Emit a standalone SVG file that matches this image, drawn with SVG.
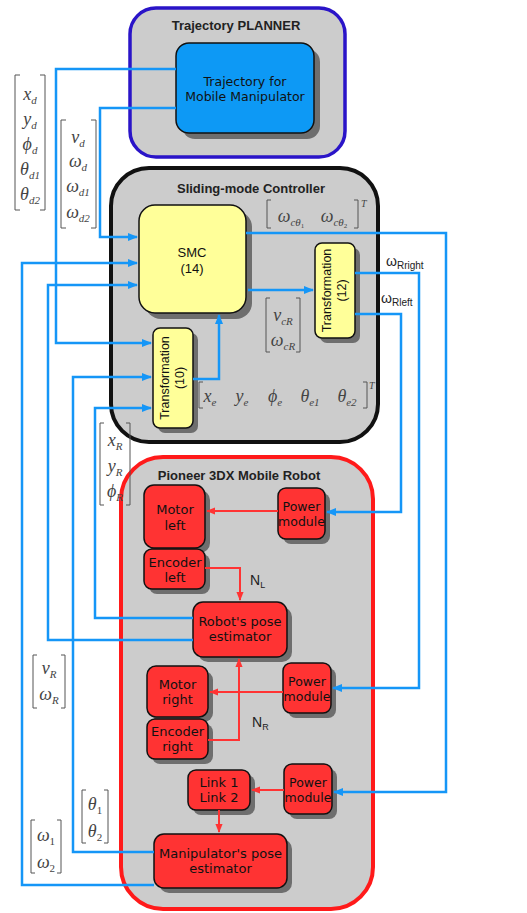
<svg xmlns="http://www.w3.org/2000/svg" width="527" height="913" viewBox="0 0 527 913">
<defs>
<marker id="ab" viewBox="0 0 10 8" refX="9" refY="4" markerWidth="10" markerHeight="8" markerUnits="userSpaceOnUse" orient="auto"><path d="M0,0 L10,4 L0,8 Z" fill="#1596f7"/></marker>
<marker id="ar" viewBox="0 0 10 8" refX="9" refY="4" markerWidth="9" markerHeight="8" markerUnits="userSpaceOnUse" orient="auto"><path d="M0,0 L10,4 L0,8 Z" fill="#ff3333"/></marker>
</defs>
<style>
.title{font-family:"Liberation Sans",Arial,sans-serif;font-weight:bold;font-size:13px;fill:#222;text-anchor:middle}
.dv{font-family:"DejaVu Sans",sans-serif;font-size:13px;fill:#111;text-anchor:middle}
.pm{font-size:12.5px}
.ls{font-family:"Liberation Sans",Arial,sans-serif;font-size:13px;fill:#111;text-anchor:middle}
.rt{font-size:12.5px}
.m{font-family:"Liberation Serif","Times New Roman",serif;font-style:italic;font-size:18px;fill:#444;text-anchor:middle}
.s{font-size:11px}
.n{font-style:normal}
.sup{font-family:"Liberation Serif","Times New Roman",serif;font-style:italic;font-size:10px;fill:#444}
.br{fill:none;stroke:#555;stroke-width:1}
.sh{fill:#6e6e6e}
.yel{fill:#ffff99;stroke:#111;stroke-width:1.5}
.red{fill:#ff3333;stroke:#111;stroke-width:1.5}
.bl{fill:none;stroke:#1596f7;stroke-width:2.5}
.rl{fill:none;stroke:#ff3333;stroke-width:2}
.lab{font-family:"Liberation Sans",Arial,sans-serif;font-size:14px;fill:#222}
</style>
<rect width="527" height="913" fill="#ffffff"/>

<g id="planner">
<rect x="130" y="8" width="215" height="149" rx="26" fill="#cccccc" stroke="#2a14c8" stroke-width="3.5"/>
<text class="title" x="236" y="30">Trajectory PLANNER</text>
</g>
<g id="traj">
<rect class="sh" x="182" y="49" width="138" height="90" rx="13"/>
<rect x="176" y="43" width="138" height="90" rx="13" fill="#0d99f5" stroke="#111" stroke-width="1.5"/>
<text class="dv pm" x="245" y="86">Trajectory for</text>
<text class="dv pm" x="245" y="101">Mobile Manipulator</text>
</g>

<g id="controller">
<rect x="111" y="168" width="267" height="274" rx="38" fill="#cccccc" stroke="#111" stroke-width="4"/>
<text class="title" x="251" y="193">Sliding-mode Controller</text>
</g>
<g id="smc">
<rect class="sh" x="145" y="211" width="107" height="108" rx="16"/>
<rect class="yel" x="139" y="205" width="107" height="108" rx="16"/>
<text class="ls" x="192" y="257">SMC</text>
<text class="ls" x="192" y="273">(14)</text>
</g>
<g id="t12">
<rect class="sh" x="320" y="248" width="40" height="95" rx="7"/>
<rect class="yel" x="315" y="243" width="40" height="95" rx="7"/>
<text class="ls rt" transform="translate(331,290.5) rotate(-90)">Transformation</text>
<text class="ls rt" transform="translate(346,290.5) rotate(-90)">(12)</text>
</g>
<g id="t10">
<rect class="sh" x="158" y="333" width="40" height="100" rx="7"/>
<rect class="yel" x="153" y="328" width="40" height="100" rx="7"/>
<text class="ls rt" transform="translate(169,378) rotate(-90)">Transformation</text>
<text class="ls rt" transform="translate(184,378) rotate(-90)">(10)</text>
</g>

<g id="robot">
<rect x="121" y="457" width="252" height="452" rx="42" fill="#cccccc" stroke="#ff1a1a" stroke-width="4"/>
<text class="title" x="239" y="480">Pioneer 3DX Mobile Robot</text>
</g>
<g id="motorL">
<rect class="sh" x="149" y="490" width="61" height="63" rx="10"/>
<rect class="red" x="144" y="485" width="61" height="63" rx="10"/>
<text class="dv" x="175" y="514">Motor</text>
<text class="dv" x="175" y="530">left</text>
</g>
<g id="power1">
<rect class="sh" x="283" y="493" width="47" height="51" rx="8"/>
<rect class="red" x="278" y="488" width="47" height="51" rx="8"/>
<text class="dv pm" x="301.5" y="511">Power</text>
<text class="dv pm" x="301.5" y="526">module</text>
</g>
<g id="encL">
<rect class="sh" x="149" y="554" width="61" height="40" rx="8"/>
<rect class="red" x="144" y="549" width="61" height="40" rx="8"/>
<text class="dv" x="175" y="567">Encoder</text>
<text class="dv" x="175" y="582">left</text>
</g>
<g id="robotPose">
<rect class="sh" x="198" y="607" width="94" height="55" rx="10"/>
<rect class="red" x="193" y="602" width="94" height="55" rx="10"/>
<text class="dv" x="240" y="626">Robot's pose</text>
<text class="dv" x="240" y="641">estimator</text>
</g>
<g id="motorR">
<rect class="sh" x="152" y="671" width="61" height="51" rx="9"/>
<rect class="red" x="147" y="666" width="61" height="51" rx="9"/>
<text class="dv" x="177.5" y="689">Motor</text>
<text class="dv" x="177.5" y="704">right</text>
</g>
<g id="power2">
<rect class="sh" x="288" y="668" width="48" height="50" rx="8"/>
<rect class="red" x="283" y="663" width="48" height="50" rx="8"/>
<text class="dv pm" x="307" y="686">Power</text>
<text class="dv pm" x="307" y="701">module</text>
</g>
<g id="encR">
<rect class="sh" x="152" y="724" width="61" height="40" rx="8"/>
<rect class="red" x="147" y="719" width="61" height="40" rx="8"/>
<text class="dv" x="177.5" y="736">Encoder</text>
<text class="dv" x="177.5" y="751">right</text>
</g>
<g id="link">
<rect class="sh" x="193" y="775" width="62" height="40" rx="8"/>
<rect class="red" x="188" y="770" width="62" height="40" rx="8"/>
<text class="dv" x="219" y="787">Link 1</text>
<text class="dv" x="219" y="802">Link 2</text>
</g>
<g id="power3">
<rect class="sh" x="289" y="769" width="48" height="50" rx="8"/>
<rect class="red" x="284" y="764" width="48" height="50" rx="8"/>
<text class="dv pm" x="308" y="787">Power</text>
<text class="dv pm" x="308" y="802">module</text>
</g>
<g id="manipPose">
<rect class="sh" x="159" y="839" width="133" height="54" rx="10"/>
<rect class="red" x="154" y="834" width="133" height="54" rx="10"/>
<text class="dv" x="220.5" y="858">Manipulator's pose</text>
<text class="dv" x="220.5" y="873">estimator</text>
</g>

<g id="connectors">
<path class="bl" d="M176,69 H56 V343 H151" marker-end="url(#ab)"/>
<path class="bl" d="M176,108 H100 V237 H137" marker-end="url(#ab)"/>
<path class="bl" d="M246,233 H446 V792 H334" marker-end="url(#ab)"/>
<path class="bl" d="M355,273 H419 V688 H333" marker-end="url(#ab)"/>
<path class="bl" d="M355,314 H401 V512 H327" marker-end="url(#ab)"/>
<path class="bl" d="M193,379 H219 V315" marker-end="url(#ab)"/>
<path class="bl" d="M248,290 H313" marker-end="url(#ab)"/>
<path class="bl" d="M154,885 H22 V263 H137" marker-end="url(#ab)"/>
<path class="bl" d="M193,640 H48 V285 H137" marker-end="url(#ab)"/>
<path class="bl" d="M154,852 H73 V377 H151" marker-end="url(#ab)"/>
<path class="bl" d="M193,618 H95 V408 H151" marker-end="url(#ab)"/>
<path class="rl" d="M278,511 H207" marker-end="url(#ar)"/>
<path class="rl" d="M205,568 H240 V600" marker-end="url(#ar)"/>
<path class="rl" d="M208,740 H239 V659" marker-end="url(#ar)"/>
<path class="rl" d="M283,692 H210" marker-end="url(#ar)"/>
<path class="rl" d="M284,790 H252" marker-end="url(#ar)"/>
<path class="rl" d="M219,810 V832" marker-end="url(#ar)"/>
</g>

<g id="labels">
<text class="lab" x="250" y="585">N<tspan font-size="9" dy="3">L</tspan></text>
<text class="lab" x="252" y="727">N<tspan font-size="9" dy="3">R</tspan></text>
<text class="lab" x="386" y="266">ω<tspan font-size="10" dy="3">Rright</tspan></text>
<text class="lab" x="381" y="303">ω<tspan font-size="10" dy="3">Rleft</tspan></text>

<path class="br" d="M20,75 H15 V210 H20 M40,75 H45 V210 H40"/>
<text class="m" x="30" y="100">x<tspan class="s" dy="4">d</tspan></text>
<text class="m" x="30" y="125">y<tspan class="s" dy="4">d</tspan></text>
<text class="m" x="30" y="150">ϕ<tspan class="s" dy="4">d</tspan></text>
<text class="m" x="30" y="175">θ<tspan class="s" dy="4">d1</tspan></text>
<text class="m" x="30" y="200">θ<tspan class="s" dy="4">d2</tspan></text>

<path class="br" d="M66,120 H61 V228 H66 M91,120 H96 V228 H91"/>
<text class="m" x="78" y="143">v<tspan class="s" dy="4">d</tspan></text>
<text class="m" x="78" y="167">ω<tspan class="s" dy="4">d</tspan></text>
<text class="m" x="78" y="192">ω<tspan class="s" dy="4">d1</tspan></text>
<text class="m" x="78" y="218">ω<tspan class="s" dy="4">d2</tspan></text>

<path class="br" d="M271,200 H267 V228 H271 M354,200 H358 V228 H354"/>
<text class="m" x="291" y="222">ω<tspan class="s" dy="4">cθ</tspan><tspan style="font-size:7px;font-style:normal" dy="2">1</tspan></text>
<text class="m" x="334" y="222">ω<tspan class="s" dy="4">cθ</tspan><tspan style="font-size:7px;font-style:normal" dy="2">2</tspan></text>
<text class="sup" x="361" y="207">T</text>

<path class="br" d="M321,382" />
<path class="br" d="M203,382 H199 V408 H203 M363,382 H367 V408 H363"/>
<text class="m" x="210" y="402">x<tspan class="s" dy="4">e</tspan></text>
<text class="m" x="242" y="402">y<tspan class="s" dy="4">e</tspan></text>
<text class="m" x="275" y="402">ϕ<tspan class="s" dy="4">e</tspan></text>
<text class="m" x="310" y="402">θ<tspan class="s" dy="4">e1</tspan></text>
<text class="m" x="347" y="402">θ<tspan class="s" dy="4">e2</tspan></text>
<text class="sup" x="369" y="389">T</text>

<path class="br" d="M270,298 H266 V352 H270 M296,298 H300 V352 H296"/>
<text class="m" x="283" y="321">v<tspan class="s" dy="4">cR</tspan></text>
<text class="m" x="283" y="346">ω<tspan class="s" dy="4">cR</tspan></text>

<path class="br" d="M104,423 H100 V505 H104 M126,423 H130 V505 H126"/>
<text class="m" x="115" y="446">x<tspan class="s" dy="4">R</tspan></text>
<text class="m" x="115" y="472">y<tspan class="s" dy="4">R</tspan></text>
<text class="m" x="115" y="497">ϕ<tspan class="s" dy="4">R</tspan></text>

<path class="br" d="M37,655 H33 V708 H37 M61,655 H65 V708 H61"/>
<text class="m" x="49" y="674">v<tspan class="s" dy="4">R</tspan></text>
<text class="m" x="49" y="700">ω<tspan class="s" dy="4">R</tspan></text>

<path class="br" d="M86,790 H82 V843 H86 M104,790 H108 V843 H104"/>
<text class="m" x="95" y="810">θ<tspan class="s n" dy="4">1</tspan></text>
<text class="m" x="95" y="837">θ<tspan class="s n" dy="4">2</tspan></text>

<path class="br" d="M35,820 H31 V873 H35 M57,820 H61 V873 H57"/>
<text class="m" x="46" y="841">ω<tspan class="s n" dy="4">1</tspan></text>
<text class="m" x="46" y="868">ω<tspan class="s n" dy="4">2</tspan></text>
</g>
</svg>
